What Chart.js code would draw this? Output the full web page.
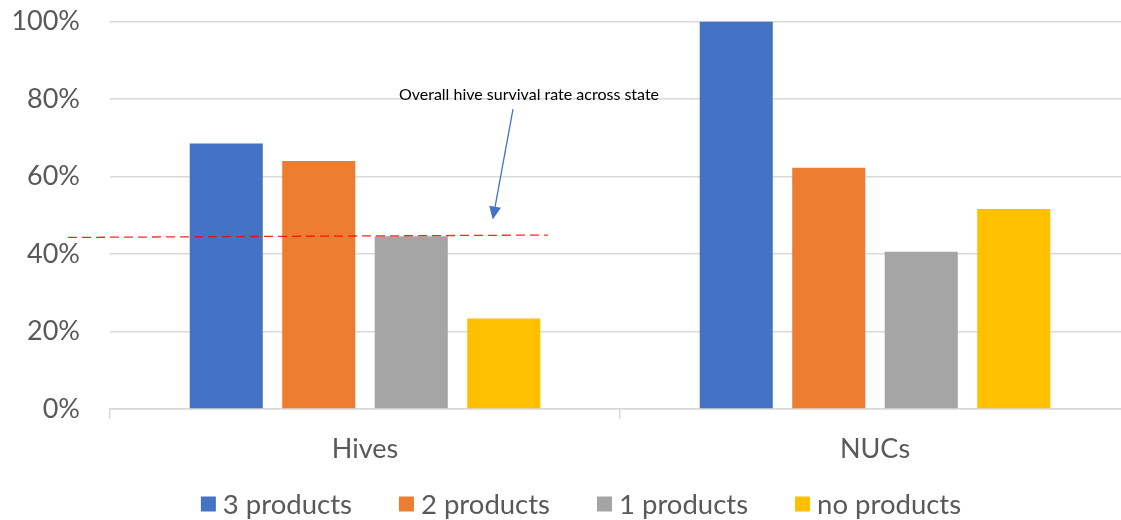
<!DOCTYPE html>
<html>
<head>
<meta charset="utf-8">
<script src="https://cdn.jsdelivr.net/npm/chart.js@4/dist/chart.umd.min.js"></script>
<style>
  html, body { margin: 0; padding: 0; background: #fff; overflow: hidden; }
  #wrap { position: relative; width: 1130px; height: 520px; }
</style>
</head>
<body>
<div id="wrap"><canvas id="c" width="1130" height="520"></canvas></div>
<script>
// Survival rate by number of treatment products used
const categories = ['Hives', 'NUCs'];
const seriesNames = ['3 products', '2 products', '1 products', 'no products'];
const threeProducts = [68.5, 100];
const twoProducts = [64.0, 62.3];
const oneProducts = [44.6, 40.6];
const noProducts = [23.4, 51.6];
const yTicks = [0, 20, 40, 60, 80, 100];
const overallRate = 44.6;
const overallLabel = 'Overall hive survival rate across state';

const colors = ['#4472c4', '#ed7d31', '#a5a5a5', '#ffc000'];
const seriesValues = [threeProducts, twoProducts, oneProducts, noProducts];
const FONT = 'Lato';
const TEXT = '#595959';

// Dashed reference line with its callout and arrow
const overallRatePlugin = {
  id: 'overallRate',
  afterDatasetsDraw(chart) {
    const { ctx, scales: { x, y } } = chart;
    const cx = x.getPixelForValue(0);
    const yLine = y.getPixelForValue(overallRate);
    ctx.save();
    ctx.strokeStyle = 'rgba(255,0,0,0.85)';
    ctx.lineWidth = 1.3;
    ctx.setLineDash([9, 5]);
    ctx.beginPath();
    ctx.moveTo(cx - 297, yLine + 1.2);
    ctx.lineTo(cx + 183, yLine - 1.2);
    ctx.stroke();
    ctx.setLineDash([]);

    ctx.fillStyle = '#000';
    ctx.font = `16px ${FONT}`;
    ctx.textAlign = 'center';
    ctx.textBaseline = 'middle';
    ctx.fillText(overallLabel, cx + 164, y.getPixelForValue(81));

    const sx = cx + 148, sy = y.getPixelForValue(77.4);
    const tx = cx + 127.7, ty = y.getPixelForValue(48.9);
    const ang = Math.atan2(ty - sy, tx - sx);
    const headLen = 13, headW = 6;
    const bx = tx - headLen * Math.cos(ang), by = ty - headLen * Math.sin(ang);
    ctx.strokeStyle = '#4472c4';
    ctx.fillStyle = '#4472c4';
    ctx.lineWidth = 1.3;
    ctx.beginPath();
    ctx.moveTo(sx, sy);
    ctx.lineTo(bx, by);
    ctx.stroke();
    ctx.beginPath();
    ctx.moveTo(tx, ty);
    ctx.lineTo(bx + headW * Math.sin(ang), by - headW * Math.cos(ang));
    ctx.lineTo(bx - headW * Math.sin(ang), by + headW * Math.cos(ang));
    ctx.closePath();
    ctx.fill();
    ctx.restore();
  }
};

// Legend row under the category labels
const legendPlugin = {
  id: 'bottomLegend',
  afterDraw(chart) {
    const { ctx } = chart;
    const box = 15, gap = 7, spacing = 47;
    ctx.save();
    ctx.font = `27.5px ${FONT}`;
    ctx.textBaseline = 'middle';
    ctx.textAlign = 'left';
    const widths = seriesNames.map(n => ctx.measureText(n).width);
    const total = widths.reduce((a, w) => a + box + gap + w, 0) + spacing * (seriesNames.length - 1);
    let xPos = 581 - total / 2;
    const yMid = 504;
    seriesNames.forEach((n, i) => {
      ctx.fillStyle = colors[i];
      ctx.fillRect(xPos, yMid - box / 2, box, box);
      ctx.fillStyle = TEXT;
      ctx.fillText(n, xPos + box + gap, yMid + 1);
      xPos += box + gap + widths[i] + spacing;
    });
    ctx.restore();
  }
};

new Chart(document.getElementById('c'), {
  type: 'bar',
  data: {
    labels: categories,
    datasets: seriesNames.map((name, i) => ({
      label: name,
      data: seriesValues[i],
      backgroundColor: colors[i],
      borderWidth: 0,
      categoryPercentage: 0.7255,
      barPercentage: 0.79
    }))
  },
  options: {
    responsive: false,
    animation: false,
    devicePixelRatio: 1,
    layout: { padding: { left: 0, right: 0, top: 0, bottom: 40.5 } },
    plugins: {
      legend: { display: false },
      tooltip: { enabled: false }
    },
    scales: {
      x: {
        grid: {
          display: true,
          drawOnChartArea: false,
          drawTicks: true,
          tickLength: 10,
          color: '#d9d9d9',
          lineWidth: 1.5
        },
        border: { display: true, color: '#d9d9d9', width: 1.5 },
        ticks: {
          font: { family: FONT, size: 27 },
          color: TEXT,
          padding: 14
        }
      },
      y: {
        min: 0,
        max: 100,
        afterBuildTicks(scale) { scale.ticks = yTicks.map(v => ({ value: v })); },
        afterFit(scale) {
          scale.width = 110;
          scale.paddingTop = 21.5;
          scale.paddingBottom = 0;
        },
        grid: { color: '#d9d9d9', lineWidth: 1.5, drawTicks: false },
        border: { display: false },
        ticks: {
          font: { family: FONT, size: 27 },
          color: TEXT,
          padding: 30,
          callback: v => v + '%'
        }
      }
    }
  },
  plugins: [overallRatePlugin, legendPlugin]
});
</script>
</body>
</html>
